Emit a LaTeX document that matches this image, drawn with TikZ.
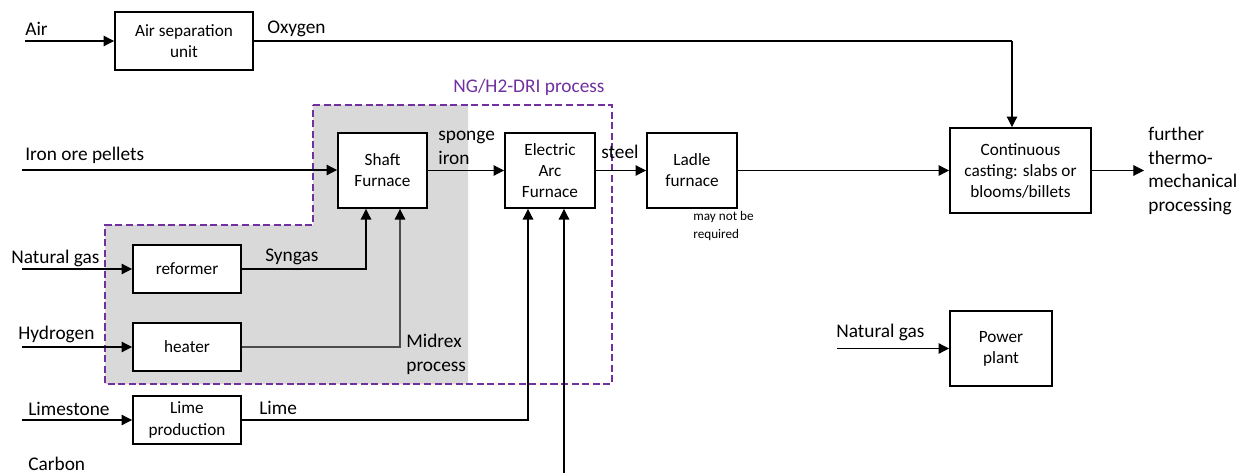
\documentclass[tikz,border=0pt]{standalone}
\usepackage{fontspec}
\setmainfont{Carlito}
\usetikzlibrary{arrows.meta}
\definecolor{dripurple}{HTML}{7030A0}
\definecolor{drigrey}{HTML}{D9D9D9}
\tikzset{
  blk/.style={draw=black, line width=1.1pt, fill=white, align=center, inner sep=1pt, font=\fontsize{9.8}{12}\selectfont},
  arr/.style={line width=0.6pt, -{Triangle[length=6pt,width=6pt,color=black,fill=black]}},
  ln/.style={line width=0.6pt},
  lbl/.style={anchor=west, align=left, inner sep=0pt, font=\fontsize{11}{13.6}\selectfont},
  smalllbl/.style={anchor=west, align=left, inner sep=0pt, font=\fontsize{7.5}{10}\selectfont},
}
\begin{document}
\begin{tikzpicture}[x=0.02cm,y=-0.02cm]
\useasboundingbox (0,0) rectangle (1244,473);
% grey region and dashed boundary
\fill[drigrey] (313,105) -- (468,105) -- (468,384) -- (105,384) -- (105,225) -- (313,225) -- cycle;
\draw[dripurple, line width=1.1pt, dash pattern=on 4pt off 2pt] (313,105) -- (612,105) -- (612,384) -- (105,384) -- (105,225) -- (313,225) -- cycle;
\node[lbl, text=dripurple] (drititle) at (453,87) {NG/H2-DRI process};

% boxes
\node[blk, minimum width=2.76cm, minimum height=1.16cm] (asu) at (184,41) {Air separation\\unit};
\node[blk, minimum width=1.78cm, minimum height=1.5cm] (shaft) at (382.5,170.5) {Shaft\\Furnace};
\node[blk, minimum width=1.8cm, minimum height=1.5cm] (eaf) at (550,170.5) {Electric\\Arc\\Furnace};
\node[blk, minimum width=1.8cm, minimum height=1.5cm] (ladle) at (692,170.5) {Ladle\\furnace};
\node[blk, minimum width=2.82cm, minimum height=1.7cm] (cc) at (1020.5,170.5) {Continuous\\casting: slabs or\\blooms/billets};
\node[blk, minimum width=2.16cm, minimum height=0.96cm] (reformer) at (187,269) {reformer};
\node[blk, minimum width=2.16cm, minimum height=0.96cm] (heater) at (187,347) {heater};
\node[blk, minimum width=2.16cm, minimum height=0.96cm] (lime) at (187,420) {Lime\\production};
\node[blk, minimum width=2.04cm, minimum height=1.5cm] (power) at (1001,348.5) {Power\\plant};

% free ends
\coordinate (airin) at (25,41);
\coordinate (o2) at (1012,41);
\coordinate (orein) at (22,170);
\coordinate (ngin) at (22,269);
\coordinate (h2in) at (22,347);
\coordinate (lsin) at (22,420);
\coordinate (carbonin) at (564,473);
\coordinate (out) at (1144,170.5);
\coordinate (ng2in) at (837,348.5);

% connectors
\draw[arr] (airin) -- (asu.west);
\draw[ln] (asu.east) -- (o2);
\draw[arr] (o2) -- (o2 |- cc.north);
\draw[arr] (orein) -- (orein -| shaft.west);
\draw[arr] (shaft.east) -- (eaf.west);
\draw[arr] (eaf.east) -- (ladle.west);
\draw[arr] (ladle.east) -- (cc.west);
\draw[arr] (cc.east) -- (out);
\draw[arr] (ngin) -- (reformer.west);
\draw[arr] (reformer.east) -| (366,208 |- shaft.south);
\draw[arr] (h2in) -- (heater.west);
\draw[arr, draw=black!70] (heater.east) -| (400,208 |- shaft.south);
\draw[arr] (lsin) -- (lime.west);
\draw[arr] (lime.east) -| (528,208 |- eaf.south);
\draw[arr] (carbonin) -- (carbonin |- eaf.south);
\draw[arr] (ng2in) -- (power.west);

% labels
\node[lbl] (lair) at (25,29) {Air};
\node[lbl] (loxy) at (267,29) {Oxygen};
\node[lbl] (lore) at (25,155) {Iron ore pellets};
\node[lbl] (lsponge) at (438,148) {sponge\\iron};
\node[lbl] (lsteel) at (601,152) {steel};
\node[lbl] (lng) at (11,258) {Natural gas};
\node[lbl] (lsyn) at (265,257) {Syngas};
\node[lbl] (lh2) at (18,334) {Hydrogen};
\node[lbl] (lmidrex) at (406,354) {Midrex\\process};
\node[lbl] (lls) at (28,409) {Limestone};
\node[lbl] (llime) at (259,408) {Lime};
\node[lbl] (lcarbon) at (28,464) {Carbon};
\node[smalllbl] (lmaynot) at (693,226) {may not be\\required};
\node[lbl] (lfurther) at (1148,171) {further\\thermo-\\mechanical\\processing};
\node[lbl] (lng2) at (836,332) {Natural gas};
\end{tikzpicture}
\end{document}
